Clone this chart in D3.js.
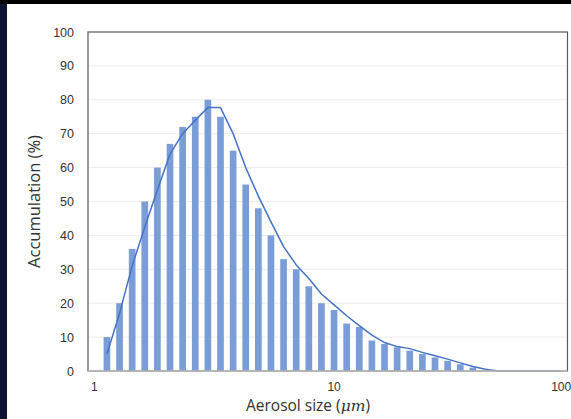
<!DOCTYPE html>
<html>
<head>
<meta charset="utf-8">
<script src="https://cdn.jsdelivr.net/npm/d3@7"></script>
<style>
    body { margin: 0; background: #ffffff; }
    svg { display: block; }
</style>
</head>
<body>
<svg id="chart" width="571" height="419"></svg>
<script>
'use strict'

// 粒径のカテゴリ (μm)
const sizes = [
    1, 1.13, 1.28, 1.45, 1.65, 1.86, 2.11, 2.39, 2.71, 3.07,
    3.47, 3.93, 4.45, 5.04, 5.71, 6.46, 7.32, 8.29, 9.39, 10.6,
    12.05, 13.65, 15.46, 17.5, 19.8, 22.5, 25.4, 28.8, 32.6, 36.9,
    41.8, 47.4, 53.7, 60.8, 68.8, 77.9, 88.3, 100
];
// 棒グラフの値 (%)
const accumulation = [
    0, 10, 20, 36, 50, 60, 67, 72, 75, 80,
    75, 65, 55, 48, 40, 33, 30, 25, 20, 18,
    14, 13, 9, 8, 7, 6, 5, 4, 3, 2,
    1, 0, 0, 0, 0, 0, 0, 0
];
// 折れ線の値 (%)
const trend = [
    null, 5, 17, 31, 42.5, 53.4, 64, 70, 74, 77.7,
    77.7, 70, 60, 51.6, 44, 36.7, 31.3, 27.3, 22.7, 19.5,
    16.3, 13.4, 10.6, 8.4, 7.2, 6.6, 5.5, 4.5, 3.5, 2.4,
    1.3, 0.5, 0, 0, 0, 0, 0, 0
];
// 軸ラベル
const y_ticks = [0, 10, 20, 30, 40, 50, 60, 70, 80, 90, 100];
const x_tick_sizes = [1, 10.6, 100];
const x_tick_texts = ['1', '10', '100'];

const W = 571, H = 419;
const plot = { left: 88, right: 567.5, top: 32, bottom: 371 };
const BAR_COLOR = '#7a9dd8';
const LINE_COLOR = '#4472c4';
const TEXT_COLOR = '#333333';
const TITLE_FONT = '"Open Sans", "Noto Sans", sans-serif';
const TICK_FONT = '"Liberation Sans", Arial, sans-serif';

const svg = d3.select('#chart');

const x = d3.scaleBand()
    .domain(sizes)
    .range([plot.left, plot.right])
    .paddingInner(0.47)
    .paddingOuter(0.235)
;
const y = d3.scaleLinear()
    .domain([0, 100])
    .range([plot.bottom, plot.top])
;

// 背景 (スライドの縁)
function draw_background() {
    svg.append('rect')
        .attr('width', W).attr('height', H)
        .attr('fill', '#ffffff')
    ;
    svg.append('rect')
        .attr('width', 7).attr('height', H)
        .attr('fill', '#0e1233')
    ;
    svg.append('rect')
        .attr('width', W).attr('height', 4)
        .attr('fill', '#000000')
    ;
}

// グリッドとY軸
function draw_y_axis() {
    const grid = svg.append('g');
    y_ticks.filter(d => d > 0 && d < 100).forEach(d => {
        grid.append('line')
            .attr('x1', plot.left).attr('x2', plot.right)
            .attr('y1', y(d)).attr('y2', y(d))
            .attr('stroke', '#ececec')
            .attr('stroke-width', 1)
        ;
    });

    const axis = svg.append('g')
        .attr('transform', `translate(${plot.left},0)`)
        .call(d3.axisLeft(y).tickValues(y_ticks).tickSize(0).tickPadding(14))
    ;
    axis.select('.domain').remove();
    axis.selectAll('text')
        .attr('font-family', TICK_FONT)
        .attr('font-size', 12.5)
        .attr('fill', TEXT_COLOR)
    ;

    svg.append('text')
        .text('Accumulation (%)')
        .attr('transform', `translate(40,${(plot.top + plot.bottom) / 2}) rotate(-90)`)
        .attr('text-anchor', 'middle')
        .attr('font-family', TITLE_FONT)
        .attr('font-size', 16.5)
        .attr('fill', TEXT_COLOR)
    ;
}

// 棒と折れ線
function draw_series() {
    svg.append('g')
        .selectAll('rect')
        .data(sizes.map((s, i) => ({ size: s, value: accumulation[i] })))
        .join('rect')
        .attr('x', d => x(d.size))
        .attr('width', x.bandwidth())
        .attr('y', d => y(d.value))
        .attr('height', d => y(0) - y(d.value))
        .attr('fill', BAR_COLOR)
    ;

    const line = d3.line()
        .defined(d => d.value != null)
        .x(d => x(d.size) + x.bandwidth() / 2)
        .y(d => y(d.value))
    ;
    svg.append('path')
        .datum(sizes.map((s, i) => ({ size: s, value: trend[i] })))
        .attr('d', line)
        .attr('fill', 'none')
        .attr('stroke', LINE_COLOR)
        .attr('stroke-width', 1.5)
        .attr('stroke-linejoin', 'round')
    ;
}

// 枠とX軸
function draw_frame() {
    svg.append('rect')
        .attr('x', plot.left).attr('y', plot.top)
        .attr('width', plot.right - plot.left)
        .attr('height', plot.bottom - plot.top)
        .attr('fill', 'none')
        .attr('stroke', '#595959')
        .attr('stroke-width', 1.2)
    ;
    svg.append('line')
        .attr('x1', plot.left).attr('x2', plot.right)
        .attr('y1', plot.bottom).attr('y2', plot.bottom)
        .attr('stroke', '#bfbfbf')
        .attr('stroke-width', 1.5)
    ;

    x_tick_sizes.forEach((s, i) => {
        svg.append('text')
            .text(x_tick_texts[i])
            .attr('x', x(s) + x.bandwidth() / 2)
            .attr('y', 391)
            .attr('text-anchor', 'middle')
            .attr('font-family', TICK_FONT)
            .attr('font-size', 12)
            .attr('fill', TEXT_COLOR)
        ;
    });

    const title = svg.append('text')
        .attr('x', 308)
        .attr('y', 410.5)
        .attr('text-anchor', 'middle')
        .attr('font-family', TITLE_FONT)
        .attr('font-size', 15.5)
        .attr('fill', TEXT_COLOR)
    ;
    title.append('tspan').text('Aerosol size (');
    title.append('tspan')
        .text('μm')
        .attr('font-family', '"DejaVu Serif", "Liberation Serif", serif')
        .attr('font-style', 'italic')
    ;
    title.append('tspan').text(')');
}

draw_background();
draw_y_axis();
draw_series();
draw_frame();
</script>
</body>
</html>
